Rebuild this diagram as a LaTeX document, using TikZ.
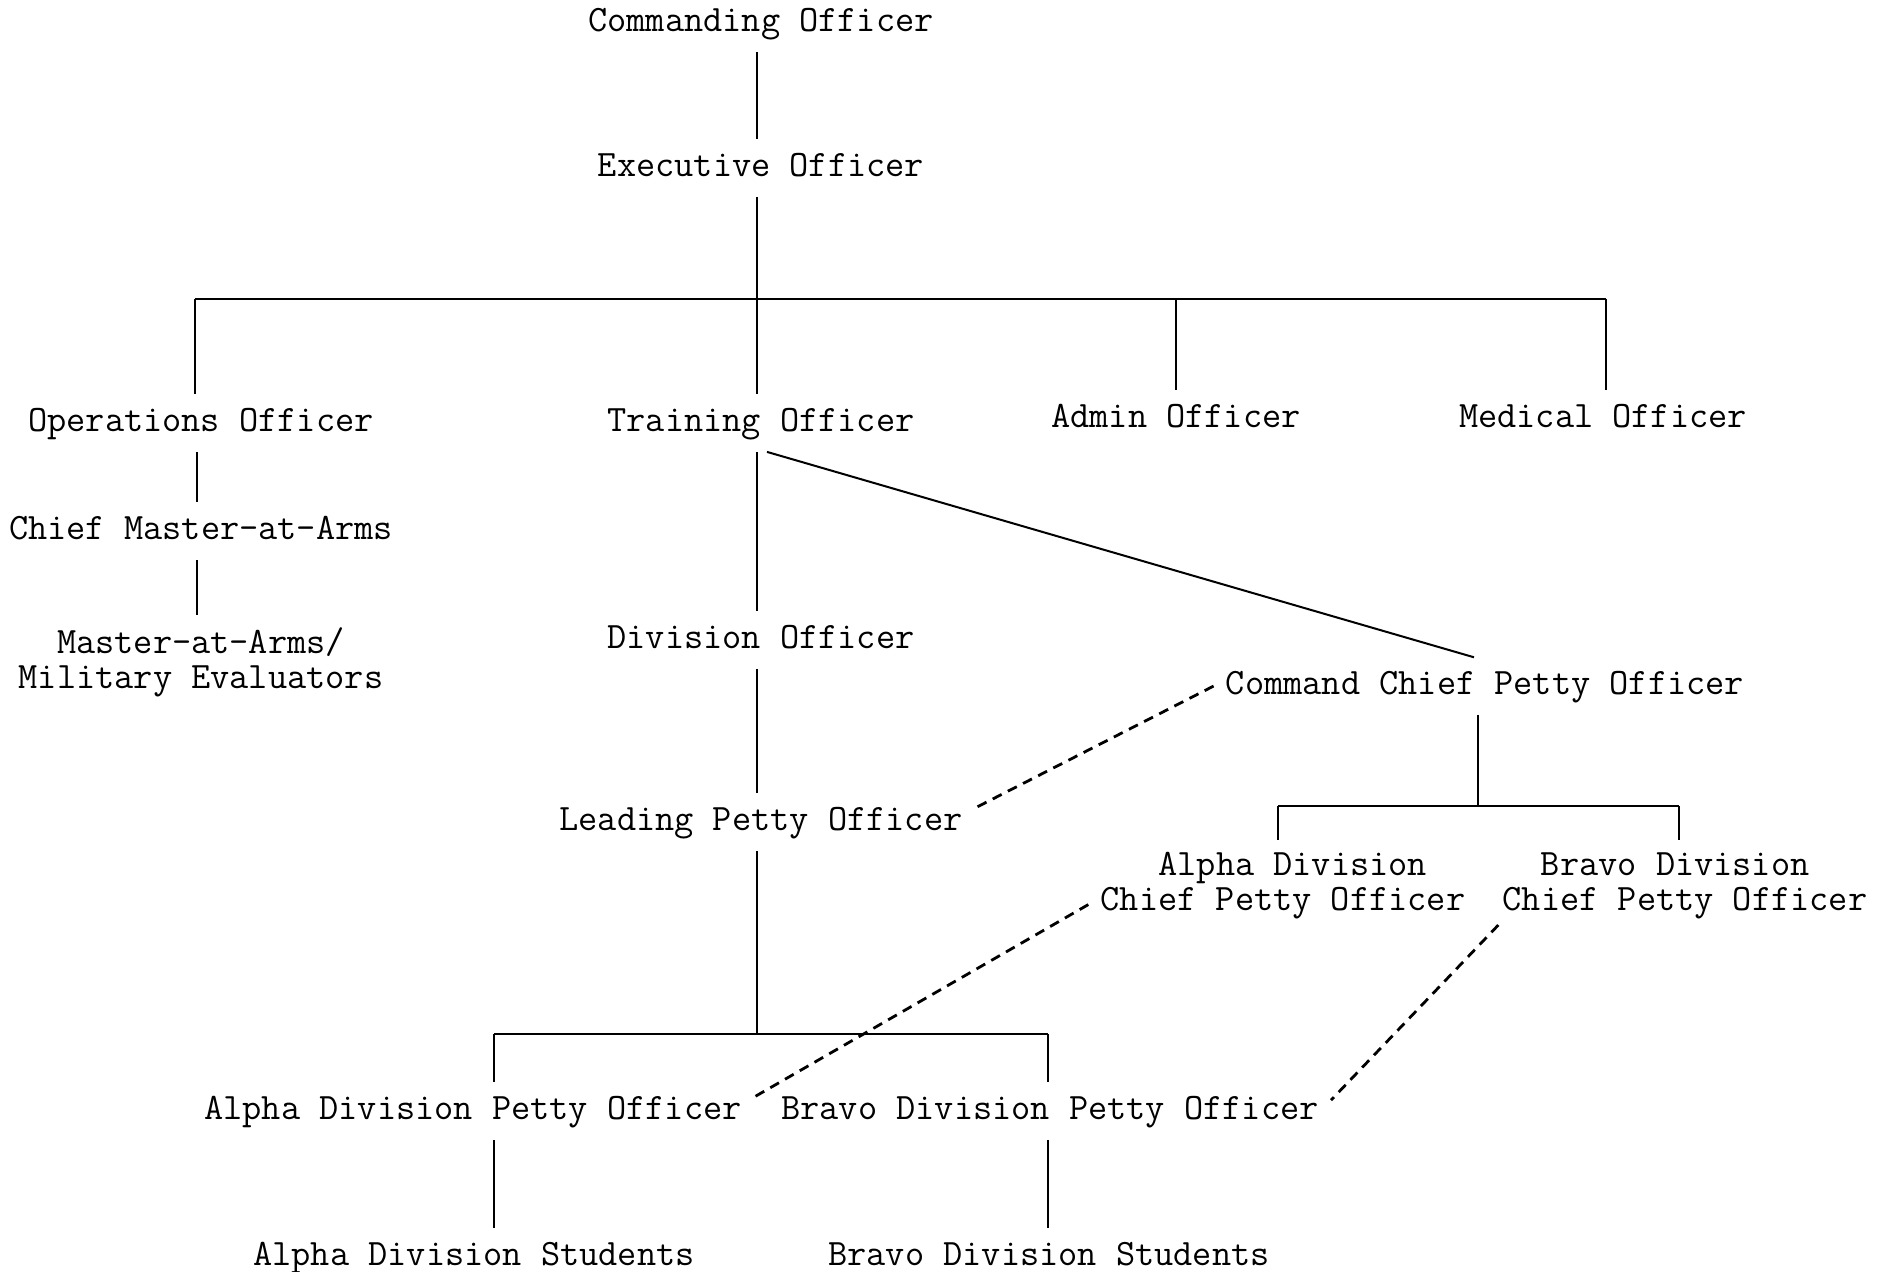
\documentclass[tikz,border=0pt]{standalone}
\usepackage{fontspec}
\usetikzlibrary{calc}
\begin{document}
\begin{tikzpicture}[x=0.5pt,y=-0.5pt,
  lbl/.style={font=\ttfamily\fontsize{18.63}{17.5}\selectfont, inner xsep=6pt, inner ysep=6pt, text height=12.4pt, text depth=4pt, anchor=base},
  mlbl/.style={font=\ttfamily\fontsize{18.63}{17.5}\selectfont, align=center, inner xsep=6pt, inner ysep=6pt, anchor=north},
  link/.style={line width=0.9pt},
  bar/.style={line width=1.2pt},
  diag/.style={line width=1pt},
  dotlink/.style={line width=1.4pt, dash pattern=on 5pt off 3.5pt}]
\useasboundingbox (0,0) rectangle (1891,1272);
% nodes
\node[lbl] (co) at (761,32) {Commanding Officer};
\node[lbl] (xo) at (761,176.5) {Executive Officer};
\node[lbl] (ops) at (201,431.5) {Operations Officer};
\node[lbl] (tro) at (761,431.5) {Training Officer};
\node[lbl] (adm) at (1176,427.5) {Admin Officer};
\node[lbl] (med) at (1603,427.5) {Medical Officer};
\node[lbl] (cma) at (201,539.5) {Chief Master-at-Arms};
\node[mlbl] (maa) at (201,615) {Master-at-Arms/\\Military Evaluators};
\node[lbl] (dvo) at (761,648.5) {Division Officer};
\node[lbl] (ccpo) at (1485,694.5) {Command Chief Petty Officer};
\node[lbl] (lpo) at (761,830.5) {Leading Petty Officer};
\node[mlbl] (adc) at (1283,840) {\hspace*{9.78pt}Alpha Division\\Chief Petty Officer};
\node[mlbl] (bdc) at (1685,840) {Bravo Division\hspace*{9.78pt}\\Chief Petty Officer};
\node[lbl] (adpo) at (473,1119.5) {Alpha Division Petty Officer};
\node[lbl] (bdpo) at (1050,1119.5) {Bravo Division Petty Officer};
\node[lbl] (ads) at (474,1265.5) {Alpha Division Students};
\node[lbl] (bds) at (1049,1265.5) {Bravo Division Students};
% junction coordinates
\coordinate (b1) at (757,299);
\coordinate (b1l) at (195,299);
\coordinate (b1a) at (1176,299);
\coordinate (b1r) at (1606,299);
\coordinate (oc) at (197,0);
\coordinate (b2) at (1478,806);
\coordinate (b2l) at (1278,806);
\coordinate (b2r) at (1679,806);
\coordinate (b3) at (757,1034);
\coordinate (b3l) at (494,1034);
\coordinate (b3r) at (1048,1034);
% connectors
\draw[link] (co.south -| b1) -- (xo.north -| b1);
\draw[link] (xo.south -| b1) -- (b1);
\draw[bar] (b1l) -- (b1r);
\draw[link] (b1l) -- (b1l |- ops.north);
\draw[link] (b1) -- (b1 |- tro.north);
\draw[link] (b1a) -- (b1a |- adm.north);
\draw[link] (b1r) -- (b1r |- med.north);
\draw[link] (ops.south -| oc) -- (cma.north -| oc);
\draw[link] (cma.south -| oc) -- (maa.north -| oc);
\draw[link] (tro.south -| b1) -- (dvo.north -| b1);
\draw[link] (dvo.south -| b1) -- (lpo.north -| b1);
\draw[link] (lpo.south -| b1) -- (b3);
\draw[bar] (b3l) -- (b3r);
\draw[link] (b3l) -- (b3l |- adpo.north);
\draw[link] (b3r) -- (b3r |- bdpo.north);
\draw[link] (adpo.south -| b3l) -- (ads.north -| b3l);
\draw[link] (bdpo.south -| b3r) -- (bds.north -| b3r);
\draw[diag] ([xshift=3pt]tro.south) -- ([xshift=-5.5pt]ccpo.north);
\draw[link] (ccpo.south -| b2) -- (b2);
\draw[bar] (b2l) -- (b2r);
\draw[link] (b2l) -- (adc.north -| b2l);
\draw[link] (b2r) -- (bdc.north -| b2r);
\draw[dotlink] (ccpo.west) -- ([yshift=7pt]lpo.east);
\draw[dotlink] ([yshift=13.5pt]adc.south west) -- ([yshift=7pt]adpo.east);
\draw[dotlink] ([xshift=4pt,yshift=3pt]bdc.south west) -- ([yshift=5.5pt]bdpo.east);
\end{tikzpicture}
\end{document}
